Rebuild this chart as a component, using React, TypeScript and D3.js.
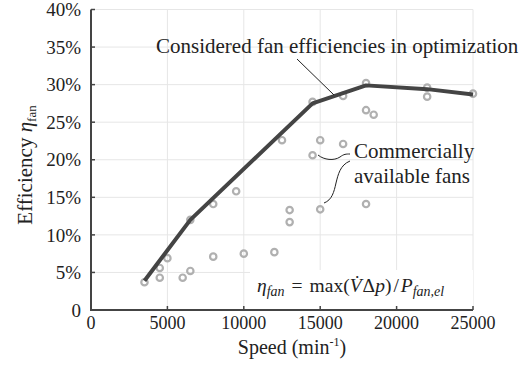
import React from 'react';
import * as d3 from 'd3';

// commercially available fans (speed in min^-1, efficiency as fraction)
const fanSpeeds = [3500, 4500, 4500, 5000, 6000, 6500, 6500, 8000, 8000, 9500, 10000, 12000, 12500, 13000, 13000,
  14500, 14500, 15000, 15000, 16500, 16500, 18000, 18000, 18000, 18500, 22000, 22000, 25000];
const fanEffs = [0.037, 0.056, 0.043, 0.069, 0.043, 0.052, 0.12, 0.071, 0.141, 0.158, 0.075, 0.077, 0.226, 0.133, 0.117,
  0.206, 0.277, 0.134, 0.226, 0.221, 0.285, 0.141, 0.302, 0.266, 0.26, 0.296, 0.284, 0.288];

// considered efficiencies in optimization
const optSpeeds = [3500, 6500, 14500, 18000, 22000, 25000];
const optEffs = [0.039, 0.12, 0.275, 0.299, 0.294, 0.287];

const xTicks = [0, 5000, 10000, 15000, 20000, 25000];
const yTicks = [0, 0.05, 0.1, 0.15, 0.2, 0.25, 0.3, 0.35, 0.4];

const W = 532;
const H = 366;
const serif = 'Liberation Serif, serif';

export default function App() {
  const x = d3.scaleLinear().domain([0, 25000]).range([91, 473]);
  const y = d3.scaleLinear().domain([0, 0.4]).range([310, 9.5]);

  const line = d3.line<number>()
    .x((d, i) => x(optSpeeds[i]))
    .y(d => y(d));

  const axisColor = '#444';
  const gridColor = '#e6e6e6';
  const ink = '#222';

  return (
    <svg width={W} height={H} style={{ position: 'absolute', left: 0, top: 0, background: '#fff' }}>
      {/* gridlines */}
      {xTicks.slice(1).map(t => (
        <line key={'gx' + t} x1={x(t)} x2={x(t)} y1={y(0.4)} y2={y(0)} stroke={gridColor} strokeWidth={1} />
      ))}
      {yTicks.slice(1).map(t => (
        <line key={'gy' + t} x1={x(0)} x2={x(25000)} y1={y(t)} y2={y(t)} stroke={gridColor} strokeWidth={1} />
      ))}

      {/* equation box */}
      <rect x={250} y={270} width={223} height={39} fill="#fff" />
      <text x={257} y={292} fontSize={19.5} fill={ink} fontFamily={serif}>
        <tspan fontStyle="italic">η</tspan>
        <tspan fontStyle="italic" fontSize={14} dy={4}>fan</tspan>
        <tspan dy={-4} dx={7}>=</tspan>
        <tspan dx={7}>max(</tspan>
        <tspan fontStyle="italic">V̇</tspan>
        <tspan dx={1}>Δ</tspan>
        <tspan fontStyle="italic">p</tspan>
        <tspan>)</tspan>
        <tspan dx={2}>/</tspan>
        <tspan fontStyle="italic" dx={2}>P</tspan>
        <tspan fontStyle="italic" fontSize={14} dy={4}>fan,el</tspan>
      </text>

      {/* axes */}
      <line x1={x(0)} x2={x(0)} y1={y(0.4)} y2={y(0) + 1} stroke={axisColor} strokeWidth={2} />
      <line x1={x(0) - 1} x2={x(25000)} y1={y(0)} y2={y(0)} stroke={axisColor} strokeWidth={2} />
      {yTicks.map(t => (
        <g key={'ty' + t}>
          <line x1={x(0)} x2={x(0) + 4} y1={y(t)} y2={y(t)} stroke={axisColor} strokeWidth={1.5} />
          <text x={81} y={y(t)} dy="0.35em" textAnchor="end" fontSize={19} fill={ink} fontFamily={serif}>
            {t === 0 ? '0' : `${Math.round(t * 100)}%`}
          </text>
        </g>
      ))}
      {xTicks.map(t => (
        <g key={'tx' + t}>
          <line x1={x(t)} x2={x(t)} y1={y(0)} y2={y(0) - 4} stroke={axisColor} strokeWidth={1.5} />
          <text x={x(t)} y={329} textAnchor="middle" fontSize={18} fill={ink} fontFamily={serif}>{t}</text>
        </g>
      ))}

      {/* axis labels */}
      <text x={292} y={354} textAnchor="middle" fontSize={20} fill={ink} fontFamily={serif}>
        Speed (min<tspan fontSize={12} dy={-8}>-1</tspan><tspan dy={8}>)</tspan>
      </text>
      <text transform="translate(32,165) rotate(-90)" textAnchor="middle" fontSize={21} fill={ink} fontFamily={serif}>
        Efficiency <tspan fontStyle="italic">η</tspan>
        <tspan fontSize={13} dy={4}>fan</tspan>
      </text>

      {/* commercially available fans */}
      {fanSpeeds.map((s, i) => (
        <circle key={'c' + i} cx={x(s)} cy={y(fanEffs[i])} r={3.2} fill="none" stroke="#b0b0b0" strokeWidth={2.2} />
      ))}

      {/* considered efficiencies */}
      <path d={line(optEffs) || ''} fill="none" stroke="#444" strokeWidth={4} strokeLinejoin="round" />

      {/* annotations */}
      <text x={156} y={53} fontSize={21} fill={ink} fontFamily={serif}>Considered fan efficiencies in optimization</text>
      <line x1={297} y1={59} x2={334} y2={95} stroke={ink} strokeWidth={1} />

      <text x={354} y={158} fontSize={21} fill={ink} fontFamily={serif}>Commercially</text>
      <text x={354} y={183} fontSize={21} fill={ink} fontFamily={serif}>available fans</text>
      <path d="M318,155 C324,160 334,161 340,157 C344,154 346,154 350,154" fill="none" stroke={ink} strokeWidth={1} />
      <path d="M350,161 C340,165 338,175 336,183 C334,192 332,200 324,203" fill="none" stroke={ink} strokeWidth={1} />
    </svg>
  );
}
